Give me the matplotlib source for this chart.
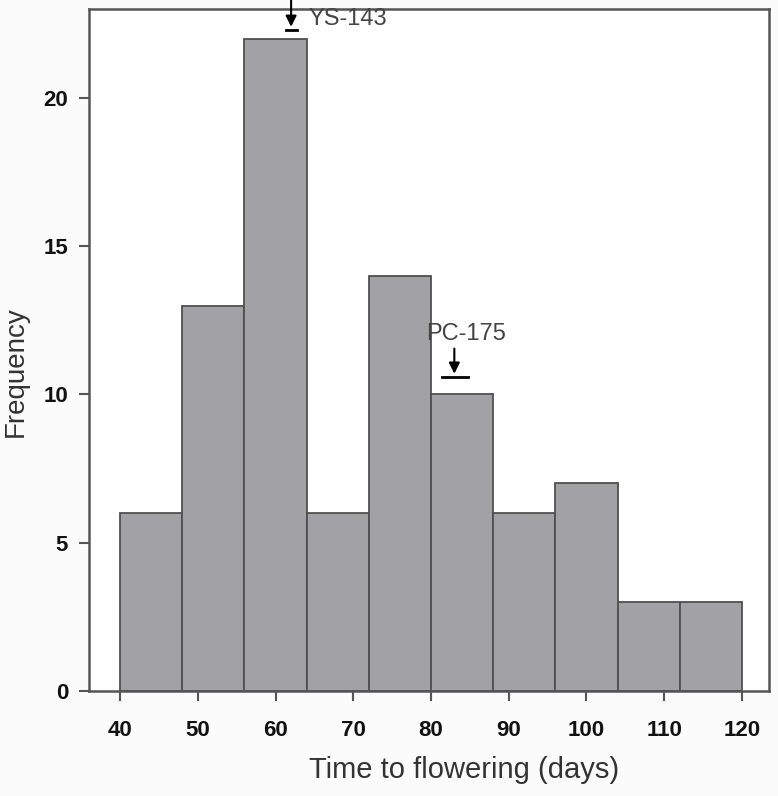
import numpy as np
import matplotlib.pyplot as plt

plt.rcParams['font.family'] = ['Liberation Sans', 'DejaVu Sans']

# histogram bins (days) and counts
bin_edges = [40, 48, 56, 64, 72, 80, 88, 96, 104, 112, 120]
counts = [6, 13, 22, 6, 14, 10, 6, 7, 3, 3]

# parental lines marked on the plot
parent_names = ['YS-143', 'PC-175']
parent_days = [62, 83]
parent_levels = [22.3, 10.6]

fig = plt.figure(figsize=(7.78, 7.96), dpi=100)
fig.patch.set_facecolor('#fbfbfb')
ax = fig.add_axes([0.1144, 0.1319, 0.8742, 0.8568])
ax.set_facecolor('white')

left = np.array(bin_edges[:-1])
widths = np.diff(bin_edges)
ax.bar(left, counts, width=widths, align='edge', color='#a2a2a6',
       edgecolor='#505050', linewidth=1.3)

ax.set_xlim(36, 123.5)
ax.set_ylim(0, 23)
ax.set_xticks(range(40, 121, 10))
ax.set_yticks([0, 5, 10, 15, 20])
ax.tick_params(direction='out', length=7, width=1.5, color='#555555',
               labelsize=16, labelcolor='#111111')
ax.tick_params(axis='x', pad=14)
ax.tick_params(axis='y', pad=8)
for lab in ax.get_xticklabels() + ax.get_yticklabels():
    lab.set_fontweight('bold')
for sp in ax.spines.values():
    sp.set_color('#555555')
    sp.set_linewidth(1.8)

ax.set_xlabel('Time to flowering (days)', fontsize=21, color='#333333', labelpad=12)
ax.xaxis.set_label_coords(0.551, -0.095)
ax.set_ylabel('Frequency', fontsize=20, color='#333333', labelpad=10)
ax.yaxis.set_label_coords(-0.089, 0.468)

# YS-143 marker: arrow from top, label to the right
x0, y0 = parent_days[0], parent_levels[0]
ax.annotate('', xy=(x0, y0 + 0.1), xytext=(x0, 23.3),
            arrowprops=dict(arrowstyle='-|>', color='black', lw=1.5,
                            mutation_scale=16, shrinkA=0, shrinkB=0),
            annotation_clip=False)
ax.plot([x0 - 0.7, x0 + 0.7], [y0, y0], color='black', lw=2, clip_on=False)
ax.text(x0 + 2.2, 22.65, parent_names[0], fontsize=17, color='#444444',
        va='center', ha='left')

# PC-175 marker: label above arrow
x1, y1 = parent_days[1], parent_levels[1]
ax.annotate('', xy=(x1, y1 + 0.1), xytext=(x1, 11.55),
            arrowprops=dict(arrowstyle='-|>', color='black', lw=1.5,
                            mutation_scale=16, shrinkA=0, shrinkB=0))
ax.plot([x1 - 1.6, x1 + 1.8], [y1, y1], color='black', lw=2)
ax.text(x1 + 1.5, 12.05, parent_names[1], fontsize=17, color='#444444',
        va='center', ha='center')

fig.savefig('out.png', dpi=100, facecolor=fig.get_facecolor())
